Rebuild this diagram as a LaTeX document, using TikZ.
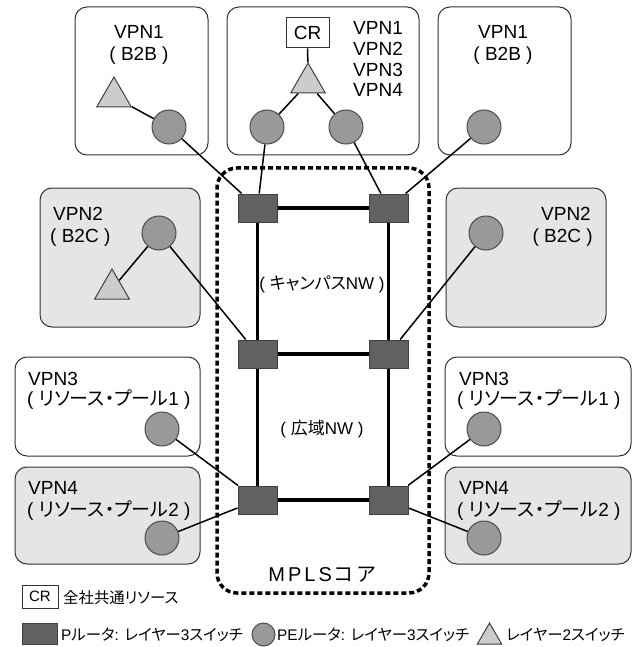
\documentclass[tikz,border=0pt]{standalone}
\usepackage{fontspec}
\setmainfont{Liberation Sans}
\newfontfamily\jpfont[RawFeature=+palt]{Noto Sans CJK JP}
\newcommand\ja[1]{{\jpfont #1}}
\usetikzlibrary{shapes.geometric}
\pgfdeclarelayer{bg}
\pgfdeclarelayer{mid}
\pgfsetlayers{bg,mid,main}

\definecolor{prouterfill}{gray}{0.38}
\definecolor{pefill}{gray}{0.60}
\definecolor{lswfill}{gray}{0.80}
\definecolor{siteshade}{gray}{0.90}

\tikzset{
  site/.style={draw=black!80, line width=1pt, rounded corners=12pt, inner sep=0pt},
  whitesite/.style={site, fill=white},
  greysite/.style={site, fill=siteshade},
  prouter/.style={draw=black!75, fill=prouterfill, line width=1pt, inner sep=0pt,
    minimum width=39pt, minimum height=28pt},
  perouter/.style={circle, draw=black!70, fill=pefill, line width=1pt, inner sep=0pt,
    minimum size=34pt},
  lswitch/.style={regular polygon, regular polygon sides=3, draw=black!75, fill=lswfill,
    line width=1pt, inner sep=0pt, minimum size=40pt},
  crbox/.style={draw=black!80, fill=white, line width=1pt, inner sep=0pt,
    minimum width=43pt, minimum height=30pt, font=\fontsize{19}{22}\selectfont},
  link/.style={line width=1.5pt, black},
  trunk/.style={line width=3.6pt, black},
  mplsframe/.style={draw=black, line width=3.5pt, dash pattern=on 5pt off 3pt,
    rounded corners=20pt, inner sep=0pt},
  lbl/.style={inner sep=0pt, font=\fontsize{19}{22}\selectfont},
  midlbl/.style={inner sep=0pt, font=\fontsize{17}{20}\selectfont},
  keylbl/.style={inner sep=0pt, font=\fontsize{15.4}{18}\selectfont},
}

\begin{document}
\begin{tikzpicture}[x=1pt, y=-1pt]
\useasboundingbox (0,0) rectangle (636,647);

% ---- site enclosures ----
\begin{pgfonlayer}{bg}
\node[whitesite, minimum width=133pt, minimum height=148pt] (s1) at (141.5,81) {};
\node[whitesite, minimum width=192pt, minimum height=148pt] (s2) at (323,81) {};
\node[whitesite, minimum width=133pt, minimum height=148pt] (s3) at (504.5,81) {};
\node[greysite, minimum width=160pt, minimum height=139pt] (s4) at (120,257.5) {};
\node[greysite, minimum width=160pt, minimum height=139pt] (s5) at (526,257.5) {};
\node[whitesite, minimum width=185pt, minimum height=99pt] (s6) at (107.5,406.5) {};
\node[greysite, minimum width=185pt, minimum height=97pt] (s7) at (107.5,515.5) {};
\node[whitesite, minimum width=186pt, minimum height=99pt] (s8) at (538,406.5) {};
\node[greysite, minimum width=186pt, minimum height=97pt] (s9) at (538,515.5) {};
\end{pgfonlayer}

% ---- P routers (core) ----
\node[prouter] (r1) at (257.5,208) {};
\node[prouter] (r2) at (388.5,208) {};
\node[prouter] (r3) at (257.5,354) {};
\node[prouter] (r4) at (388.5,354) {};
\node[prouter] (r5) at (257.5,500) {};
\node[prouter] (r6) at (388.5,500) {};

% ---- PE routers ----
\node[perouter] (p1) at (169,127) {};
\node[perouter] (p2) at (267,127) {};
\node[perouter] (p3) at (346,127) {};
\node[perouter] (p4) at (484,127) {};
\node[perouter] (p5) at (159,233) {};
\node[perouter] (p6) at (486,233) {};
\node[perouter] (p7) at (162,429) {};
\node[perouter] (p8) at (162,538) {};
\node[perouter] (p9) at (484,429) {};
\node[perouter] (p10) at (484,538) {};

% ---- layer-2 switches and common resource ----
\node[lswitch] (t1) at (114,97) {};
\node[lswitch] (t2) at (308,83) {};
\node[lswitch] (t3) at (112,289) {};
\node[crbox] (cr) at (307.5,33) {CR};

% ---- connections ----
\begin{pgfonlayer}{mid}
\draw[link] (t1) -- (p1);
\draw[link] (cr) -- (t2);
\draw[link] (t2) -- (p2);
\draw[link] (t2) -- (p3);
\draw[link] (p5) -- (t3);
\draw[link] (p1) -- (r1);
\draw[link] (p2) -- (r1);
\draw[link] (p3) -- (r2);
\draw[link] (p4) -- (r2);
\draw[link] (p5) -- (r3);
\draw[link] (p6) -- (r4);
\draw[link] (p7) -- (r5);
\draw[link] (p8) -- (r5);
\draw[link] (p9) -- (r6);
\draw[link] (p10) -- (r6);
\draw[trunk] (r1) -- (r2);
\draw[trunk] (r3) -- (r4);
\draw[trunk] (r5) -- (r6);
\draw[trunk] (r1) -- (r3);
\draw[trunk] (r3) -- (r5);
\draw[trunk] (r2) -- (r4);
\draw[trunk] (r4) -- (r6);
\node[mplsframe, minimum width=212pt, minimum height=425pt] (core) at (323,380.5) {};
\end{pgfonlayer}

% ---- site labels ----
\node[lbl, anchor=base] (l1a) at (139,39) {VPN1};
\node[lbl, anchor=base] (l1b) at (139,61) {( B2B )};
\node[lbl, anchor=base west] (l2a) at (353,35) {VPN1};
\node[lbl, anchor=base west] (l2b) at (353,56) {VPN2};
\node[lbl, anchor=base west] (l2c) at (353,77) {VPN3};
\node[lbl, anchor=base west] (l2d) at (353,97) {VPN4};
\node[lbl, anchor=base] (l3a) at (503,39) {VPN1};
\node[lbl, anchor=base] (l3b) at (503,61) {( B2B )};
\node[lbl, anchor=base west] (l4a) at (53,220) {VPN2};
\node[lbl, anchor=base west] (l4b) at (50,242) {( B2C )};
\node[lbl, anchor=base east] (l5a) at (591,220) {VPN2};
\node[lbl, anchor=base east] (l5b) at (593,242) {( B2C )};
\node[lbl, anchor=base west] (l6a) at (28,385) {VPN3};
\node[lbl, anchor=base west] (l6b) at (27,405) {( \ja{リソース・プール}1 )};
\node[lbl, anchor=base west] (l7a) at (28,494) {VPN4};
\node[lbl, anchor=base west] (l7b) at (27,516) {( \ja{リソース・プール}2 )};
\node[lbl, anchor=base west] (l8a) at (459,385) {VPN3};
\node[lbl, anchor=base west] (l8b) at (457,405) {( \ja{リソース・プール}1 )};
\node[lbl, anchor=base west] (l9a) at (459,494) {VPN4};
\node[lbl, anchor=base west] (l9b) at (457,516) {( \ja{リソース・プール}2 )};

% ---- core labels ----
\node[midlbl, anchor=base] (campus) at (322,289) {( \ja{キャンパス}NW )};
\node[midlbl, anchor=base] (wan) at (322,434) {( \ja{広域}NW )};
\node[lbl, font=\fontsize{20}{23}\selectfont, anchor=base] (mpls) at (322,581)
  {M\kern3pt P\kern3pt L\kern3pt S\kern3pt\ja{コ\kern3ptア}};

% ---- legend ----
\node[crbox, minimum width=36pt, minimum height=23pt, font=\fontsize{15}{18}\selectfont] (kcr) at (40,596.5) {CR};
\node[keylbl, anchor=base west] (kcrt) at (63,603) {\ja{全社共通リソース}};
\node[prouter, minimum width=35pt, minimum height=21pt] (kp) at (39.5,633.5) {};
\node[keylbl, anchor=base west] (kpt) at (61,640) {P\ja{ルータ}: \ja{レイヤー}3\ja{スイッチ}};
\node[perouter, minimum size=23pt] (kpe) at (263.5,634.5) {};
\node[keylbl, anchor=base west] (kpet) at (277,640) {PE\ja{ルータ}: \ja{レイヤー}3\ja{スイッチ}};
\node[lswitch, minimum size=28pt] (kl2) at (489.5,637) {};
\node[keylbl, anchor=base west] (kl2t) at (506,640) {\ja{レイヤー}2\ja{スイッチ}};
\end{tikzpicture}
\end{document}
